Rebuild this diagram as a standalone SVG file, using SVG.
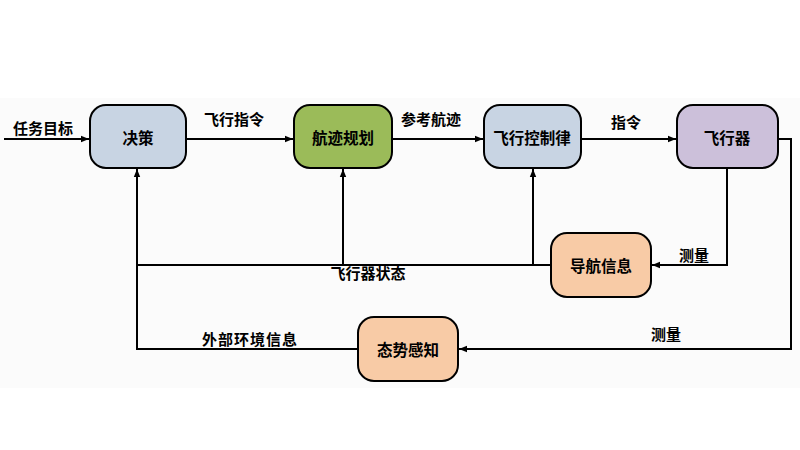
<svg xmlns="http://www.w3.org/2000/svg" width="800" height="450" viewBox="0 0 800 450">
<defs>
<marker id="arr" viewBox="0 0 10 10" refX="10" refY="5" markerWidth="10" markerHeight="8" markerUnits="userSpaceOnUse" orient="auto">
<path d="M0,1 L10,5 L0,9 z" fill="#000"/>
</marker>
</defs>
<style>
.node rect{stroke:#000;stroke-width:2}
.nt{font-family:"Noto Sans CJK SC","Noto Sans",sans-serif;font-size:15.5px;font-weight:bold;fill:#000;text-anchor:middle;dominant-baseline:central}
.lbl{font-family:"Noto Sans CJK SC","Noto Sans",sans-serif;font-size:15px;font-weight:bold;fill:#000;text-anchor:middle;dominant-baseline:central}
.c path{fill:none;stroke:#000;stroke-width:2}
</style>
<rect x="0" y="0" width="800" height="450" fill="#ffffff"/>
<rect x="0" y="98" width="800" height="290" fill="#fbfbfb"/>
<g class="c" id="connectors">
<path d="M4,139 H89" marker-end="url(#arr)"/>
<path d="M186,139 H293" marker-end="url(#arr)"/>
<path d="M392,139 H483" marker-end="url(#arr)"/>
<path d="M581,139 H676" marker-end="url(#arr)"/>
<path d="M727,168 V265 H652" marker-end="url(#arr)"/>
<path d="M778,139 H791 V349 H459" marker-end="url(#arr)"/>
<path d="M551,265 H137"/>
<path d="M343,265 V169" marker-end="url(#arr)"/>
<path d="M533,265 V169" marker-end="url(#arr)"/>
<path d="M358,349 H137 V169" marker-end="url(#arr)"/>
</g>
<g id="labels">
<text class="lbl" x="43" y="127">任务目标</text>
<text class="lbl" x="234" y="118">飞行指令</text>
<text class="lbl" x="431" y="118">参考航迹</text>
<text class="lbl" x="626" y="121">指令</text>
<text class="lbl" x="694" y="254">测量</text>
<text class="lbl" x="666" y="333">测量</text>
<text class="lbl" x="368" y="272">飞行器状态</text>
<text class="lbl" x="250" y="338" letter-spacing="1">外部环境信息</text>
</g>
<g class="node" id="n-juece">
<rect x="90" y="105" width="96" height="63" rx="16" fill="#c8d4e3"/>
<text class="nt" x="138" y="137">决策</text>
</g>
<g class="node" id="n-hangji">
<rect x="294" y="105" width="98" height="63" rx="16" fill="#9bbb59"/>
<text class="nt" x="343" y="137">航迹规划</text>
</g>
<g class="node" id="n-kongzhi">
<rect x="484" y="105" width="97" height="63" rx="16" fill="#c8d4e3"/>
<text class="nt" x="532" y="137">飞行控制律</text>
</g>
<g class="node" id="n-feixingqi">
<rect x="677" y="105" width="101" height="63" rx="16" fill="#ccc0da"/>
<text class="nt" x="727" y="137">飞行器</text>
</g>
<g class="node" id="n-daohang">
<rect x="551" y="233" width="100" height="64" rx="16" fill="#f8cba6"/>
<text class="nt" x="601" y="265">导航信息</text>
</g>
<g class="node" id="n-taishi">
<rect x="358" y="317" width="100" height="64" rx="16" fill="#f8cba6"/>
<text class="nt" x="408" y="349">态势感知</text>
</g>
</svg>
